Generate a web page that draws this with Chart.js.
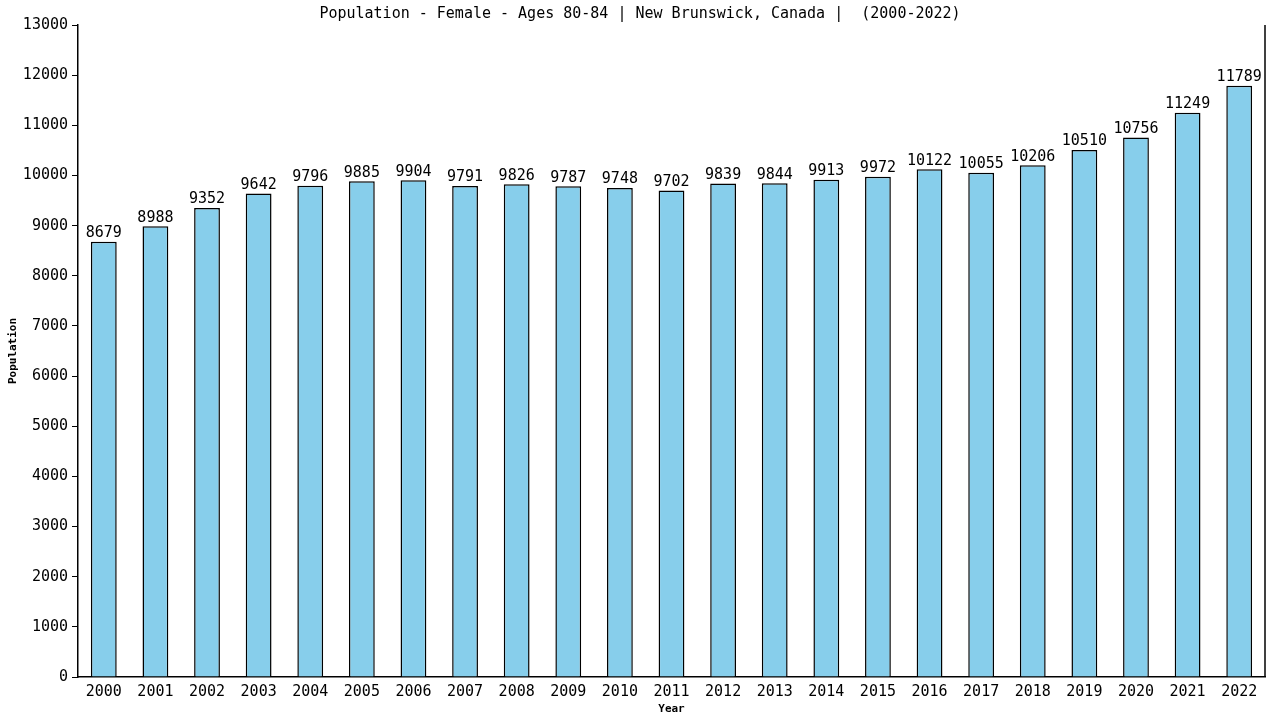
<!DOCTYPE html>
<html>
<head>
<meta charset="utf-8">
<script src="https://cdn.jsdelivr.net/npm/chart.js@4/dist/chart.umd.min.js"></script>
<style>
  html, body { margin: 0; padding: 0; background: #fff; }
  #chart { display: block; }
</style>
</head>
<body>
<canvas id="chart" width="1280" height="720"></canvas>
<script>
// data
const years = ['2000','2001','2002','2003','2004','2005','2006','2007','2008','2009','2010','2011',
               '2012','2013','2014','2015','2016','2017','2018','2019','2020','2021','2022'];
const population = [8679, 8988, 9352, 9642, 9796, 9885, 9904, 9791, 9826, 9787, 9748, 9702,
                    9839, 9844, 9913, 9972, 10122, 10055, 10206, 10510, 10756, 11249, 11789];
const titleText = 'Population - Female - Ages 80-84 | New Brunswick, Canada |  (2000-2022)';
const yTitle = 'Population';
const xTitle = 'Year';

const monoFont = "'DejaVu Sans Mono', monospace";

// titles, value labels and right border drawn by hand
const extras = {
  id: 'extras',
  afterDraw(chart) {
    const ctx = chart.ctx;
    const area = chart.chartArea;
    ctx.save();
    ctx.fillStyle = '#000';

    // title
    ctx.font = '15px ' + monoFont;
    ctx.textAlign = 'center';
    ctx.textBaseline = 'middle';
    ctx.fillText(titleText, 640, 14);

    // value labels above bars
    const meta = chart.getDatasetMeta(0);
    meta.data.forEach((bar, i) => {
      ctx.textBaseline = 'bottom';
      ctx.fillText(String(population[i]), bar.x, bar.y - 1);
    });

    // axis titles
    ctx.font = 'bold 11px ' + monoFont;
    ctx.textBaseline = 'middle';
    ctx.fillText(xTitle, (area.left + area.right) / 2, 709);
    ctx.translate(13, (area.top + area.bottom) / 2);
    ctx.rotate(-Math.PI / 2);
    ctx.fillText(yTitle, 0, 0);
    ctx.restore();

    // right border
    ctx.save();
    ctx.strokeStyle = '#000';
    ctx.lineWidth = 1.5;
    ctx.beginPath();
    ctx.moveTo(area.right, area.top);
    ctx.lineTo(area.right, area.bottom);
    ctx.stroke();
    ctx.restore();
  }
};

new Chart(document.getElementById('chart'), {
  type: 'bar',
  data: {
    labels: years,
    datasets: [{
      data: population,
      backgroundColor: '#87CEEB',
      borderColor: '#000',
      borderWidth: { top: 1.5, left: 1.5, right: 1.5, bottom: 0 },
      barPercentage: 0.5,
      categoryPercentage: 1.0
    }]
  },
  options: {
    responsive: false,
    devicePixelRatio: 1,
    animation: false,
    layout: { padding: { top: 25, right: 15, left: 0, bottom: 0 } },
    plugins: {
      legend: { display: false },
      title: { display: false },
      tooltip: { enabled: false }
    },
    scales: {
      x: {
        afterFit(scale) { scale.height = 43; },
        grid: { display: false, drawTicks: false },
        border: { color: '#000', width: 1.5 },
        ticks: { color: '#000', font: { family: monoFont, size: 15 }, padding: 6, maxRotation: 0 }
      },
      y: {
        min: 0,
        max: 13000,
        afterFit(scale) { scale.width = 78; },
        grid: { drawOnChartArea: false, tickLength: 6, color: '#000', lineWidth: 1 },
        border: { color: '#000', width: 1.5 },
        ticks: {
          stepSize: 1000,
          color: '#000',
          font: { family: monoFont, size: 15 },
          padding: 4,
          callback: v => String(v)
        }
      }
    }
  },
  plugins: [extras]
});
</script>
</body>
</html>
